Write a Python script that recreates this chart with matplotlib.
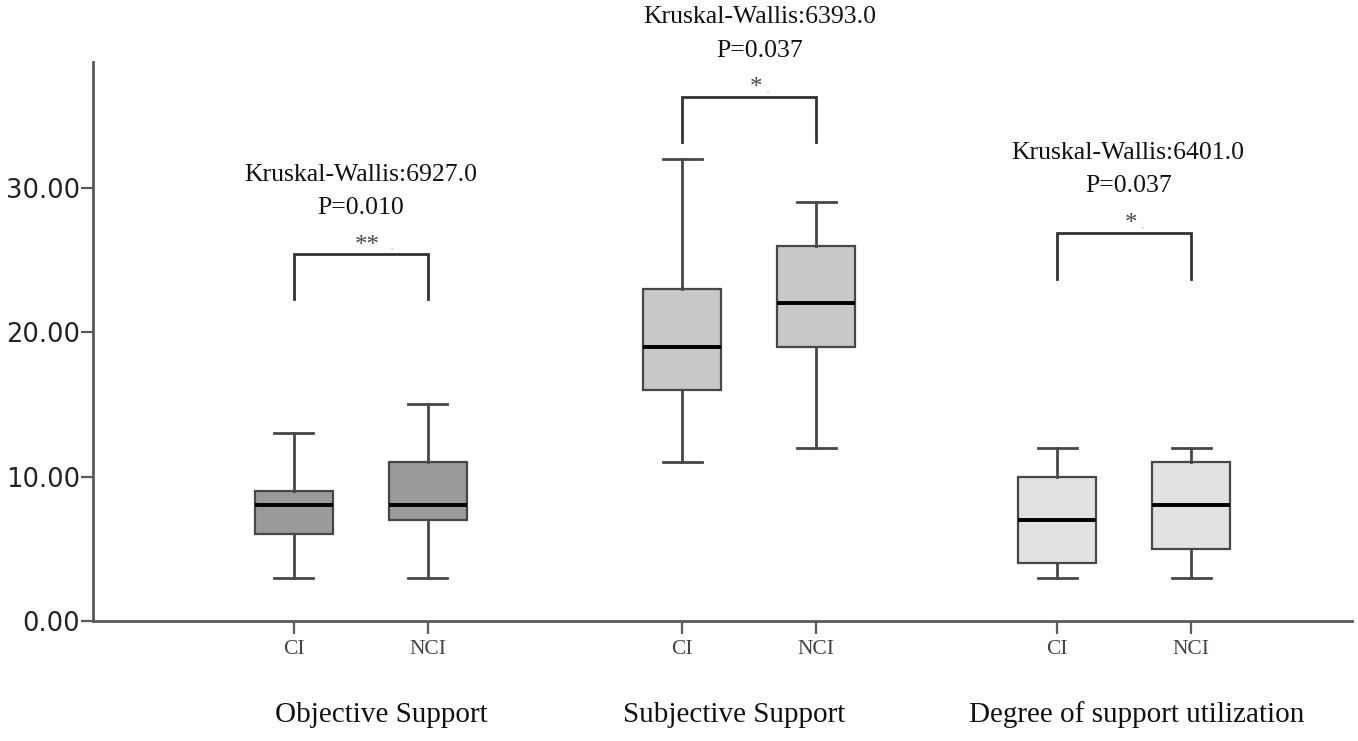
import matplotlib
matplotlib.use("Agg")
import matplotlib.pyplot as plt

groups = ["Objective Support", "Subjective Support", "Degree of support utilization"]
sub_labels = ["CI", "NCI", "CI", "NCI", "CI", "NCI"]
whis_lo = [3, 3, 11, 12, 3, 3]
q1 = [6, 7, 16, 19, 4, 5]
medians = [8, 8, 19, 22, 7, 8]
q3 = [9, 11, 23, 26, 10, 11]
whis_hi = [13, 15, 32, 29, 12, 12]

kw_stat = [6927.0, 6393.0, 6401.0]
p_vals = ["0.010", "0.037", "0.037"]
stars = ["**", "*", "*"]

positions = [1.5, 2.5, 4.4, 5.4, 7.2, 8.2]
group_label_x = [2.15, 4.79, 7.79]
text_shift = [0.0, 0.08, 0.03]
fills = ["#9a9a9a", "#9a9a9a", "#c8c8c8", "#c8c8c8", "#e2e2e2", "#e2e2e2"]
bracket_top = [25.4, 36.3, 26.9]
bracket_leg = [22.3, 33.2, 23.7]

edge = "#474747"
axis_col = "#5a5a5a"

fig = plt.figure(figsize=(13.58, 7.41), dpi=100)
ax = fig.add_axes([0.0685, 0.162, 0.927, 0.754])

stats = []
for i in range(len(medians)):
    stats.append(dict(med=medians[i], q1=q1[i], q3=q3[i],
                      whislo=whis_lo[i], whishi=whis_hi[i], fliers=[]))

bp = ax.bxp(stats, positions=positions, widths=0.58, patch_artist=True,
            showfliers=False, manage_ticks=False,
            boxprops=dict(edgecolor=edge, linewidth=1.6),
            whiskerprops=dict(color=edge, linewidth=2.0),
            capprops=dict(color=edge, linewidth=2.0),
            medianprops=dict(color="black", linewidth=2.8))
for patch, c in zip(bp["boxes"], fills):
    patch.set_facecolor(c)

ax.set_xlim(0, 9.4)
ax.set_ylim(0, 38.7)
ax.set_yticks([0, 10, 20, 30])
ax.set_yticklabels(["0.00", "10.00", "20.00", "30.00"], fontsize=18.5,
                   family="DejaVu Sans", color="#222222")
ax.set_xticks(positions)
ax.set_xticklabels(sub_labels, fontsize=15.5, family="Liberation Serif",
                   color="#444444")
ax.tick_params(axis="y", length=9, width=1.6, color=axis_col, pad=0.5)
ax.tick_params(axis="x", length=9, width=1.6, color=axis_col, pad=5)

for s in ["top", "right"]:
    ax.spines[s].set_visible(False)
for s in ["left", "bottom"]:
    ax.spines[s].set_color(axis_col)
    ax.spines[s].set_linewidth(2)

serif = "Liberation Serif"
for g in range(3):
    xa = positions[2 * g]
    xb = positions[2 * g + 1]
    mid = (xa + xb) / 2
    top = bracket_top[g]
    leg = bracket_leg[g]
    ax.plot([xa, xa, xb, xb], [leg, top, top, leg], color="#333333",
            lw=2.0, clip_on=False, solid_joinstyle="miter")
    ax.text(mid + 0.05, top + 0.6, stars[g], ha="center", va="center",
            fontsize=18, color="#4a4a4a", family=serif, clip_on=False)
    ax.text(mid + 0.03 + 0.09 * len(stars[g]), top + 0.5, ".,",
            ha="left", va="center", fontsize=6, color="#b0b0b0",
            family=serif, clip_on=False)
    ax.text(mid + text_shift[g], top + 3.2, "P=" + p_vals[g], ha="center",
            va="center", fontsize=18.5, family=serif, color="#111111",
            clip_on=False)
    ax.text(mid + text_shift[g], top + 5.5, "Kruskal-Wallis:" + str(kw_stat[g]),
            ha="center", va="center", fontsize=18.5, family=serif,
            color="#111111", clip_on=False)
    ax.text(group_label_x[g], -6.5, groups[g], ha="center", va="center",
            fontsize=21, family=serif, color="#111111", clip_on=False)

fig.savefig("out.png", dpi=100)
